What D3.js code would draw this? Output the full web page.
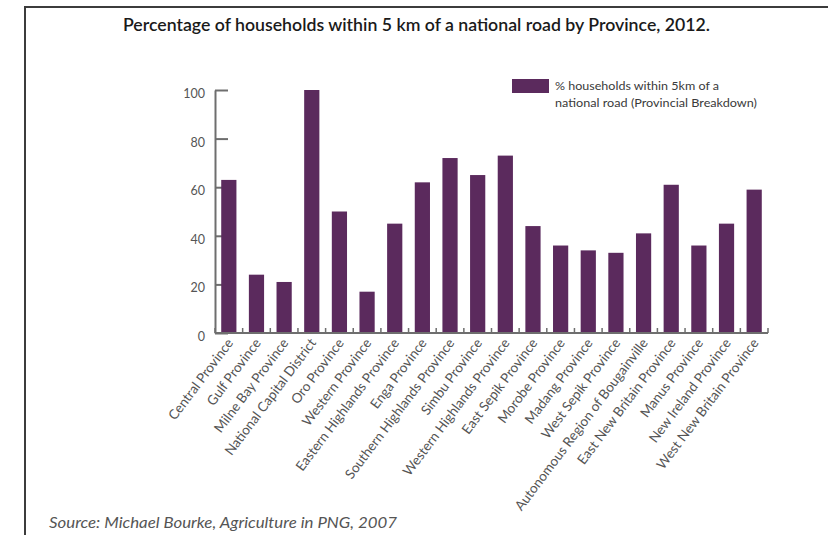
<!DOCTYPE html>
<html>
<head>
<meta charset="utf-8">
<script src="https://cdn.jsdelivr.net/npm/d3@7/dist/d3.min.js"></script>
<style>
  html, body { margin: 0; padding: 0; background: #fff; }
  svg { display: block; }
</style>
</head>
<body>
<svg id="chart" width="828" height="535"></svg>
<script>
// Provinces of Papua New Guinea, in display order
const provinces = [
  "Central Province",
  "Gulf Province",
  "Milne Bay Province",
  "National Capital District",
  "Oro Province",
  "Western Province",
  "Eastern Highlands Province",
  "Enga Province",
  "Southern Highlands Province",
  "Simbu Province",
  "Western Highlands Province",
  "East Sepik Province",
  "Morobe Province",
  "Madang Province",
  "West Sepik Province",
  "Autonomous Region of Bougainville",
  "East New Britain Province",
  "Manus Province",
  "New Ireland Province",
  "West New Britain Province"
];

// % of households within 5 km of a national road
const pctNearRoad = [63, 24, 21, 100, 50, 17, 45, 62, 72, 65, 73, 44, 36, 34, 33, 41, 61, 36, 45, 59];

const yTicks = [0, 20, 40, 60, 80, 100];

const titleText = "Percentage of households within 5 km of a national road by Province, 2012.";
const legendLines = ["% households within 5km of a", "national road (Provincial Breakdown)"];
const sourceText = "Source: Michael Bourke, Agriculture in PNG, 2007";

const data = provinces.map((p, i) => ({ province: p, value: pctNearRoad[i] }));

const svg = d3.select("#chart");
const barColor = "#5b2a5d";
const axisColor = "#6e6e6e";
const labelColor = "#555";
const bodyFont = "'Lato', 'Open Sans', 'DejaVu Sans', sans-serif";

// Frame lines along the top and left edges
svg.append("line")
  .attr("x1", 25).attr("x2", 828).attr("y1", 7).attr("y2", 7)
  .attr("stroke", "#3c3c3c").attr("stroke-width", 2);
svg.append("line")
  .attr("x1", 25).attr("x2", 25).attr("y1", 6).attr("y2", 535)
  .attr("stroke", "#3c3c3c").attr("stroke-width", 2);

// Title
svg.append("text")
  .attr("x", 123).attr("y", 31)
  .attr("font-family", "'Lato', 'Open Sans', sans-serif")
  .attr("font-weight", 600)
  .attr("font-size", 17)
  .attr("fill", "#1a1a1a")
  .attr("textLength", 587)
  .attr("lengthAdjust", "spacingAndGlyphs")
  .text(titleText);

// Scales
const x = d3.scaleBand()
  .domain(provinces)
  .range([215, 768])
  .paddingInner(0.45)
  .paddingOuter(0.225);

const y = d3.scaleLinear()
  .domain([0, 100])
  .range([333, 90]);

// Y axis with inward ticks
const yAxis = d3.axisLeft(y)
  .tickValues(yTicks)
  .tickSizeInner(-13)
  .tickSizeOuter(0)
  .tickPadding(10)
  .tickFormat(d3.format("d"));

const gy = svg.append("g")
  .attr("transform", "translate(215,0)")
  .call(yAxis);
gy.select(".domain").attr("stroke", axisColor).attr("stroke-width", 2);
gy.selectAll(".tick line").attr("stroke", axisColor).attr("stroke-width", 2);
gy.selectAll(".tick text")
  .attr("font-family", bodyFont)
  .attr("font-size", 12.5)
  .attr("fill", "#555")
  .attr("dy", "0.6em");

// X axis baseline with small upward ticks at band boundaries
const boundaries = d3.range(provinces.length + 1).map(i => x.range()[0] + i * x.step());
svg.append("g")
  .selectAll("line")
  .data(boundaries)
  .join("line")
  .attr("x1", d => d).attr("x2", d => d)
  .attr("y1", y(0)).attr("y2", y(0) - 5)
  .attr("stroke", axisColor).attr("stroke-width", 1.5);

// Bars
svg.append("g")
  .selectAll("rect")
  .data(data)
  .join("rect")
  .attr("x", d => x(d.province))
  .attr("y", d => y(d.value))
  .attr("width", x.bandwidth())
  .attr("height", d => y(0) - y(d.value))
  .attr("fill", barColor);

const xAxis = d3.axisBottom(x).tickSize(0).tickPadding(0);
const gx = svg.append("g")
  .attr("transform", `translate(0,${y(0)})`)
  .call(xAxis);
gx.select(".domain")
  .attr("d", `M${x.range()[0]},0H${x.range()[1]}`)
  .attr("stroke", axisColor).attr("stroke-width", 2);
gx.selectAll(".tick text")
  .attr("font-family", bodyFont)
  .attr("font-size", 13.5)
  .attr("fill", labelColor)
  .attr("text-anchor", "end")
  .attr("x", 0).attr("y", 0).attr("dy", 0)
  .attr("transform", "translate(5,10) rotate(-53)");

// Legend
const legend = svg.append("g").attr("transform", "translate(512,79)");
legend.append("rect")
  .attr("width", 37).attr("height", 14)
  .attr("fill", barColor);
legend.selectAll("text")
  .data(legendLines)
  .join("text")
  .attr("x", 43)
  .attr("y", (d, i) => 11 + i * 17)
  .attr("font-family", bodyFont)
  .attr("font-size", 11.5)
  .attr("fill", "#3a3a3a")
  .attr("textLength", (d, i) => i === 0 ? 164 : 202)
  .attr("lengthAdjust", "spacingAndGlyphs")
  .text(d => d);

// Source note
svg.append("text")
  .attr("x", 49).attr("y", 528)
  .attr("font-family", bodyFont)
  .attr("font-style", "italic")
  .attr("font-size", 15.5)
  .attr("fill", "#555")
  .attr("textLength", 348)
  .attr("lengthAdjust", "spacingAndGlyphs")
  .text(sourceText);
</script>
</body>
</html>
